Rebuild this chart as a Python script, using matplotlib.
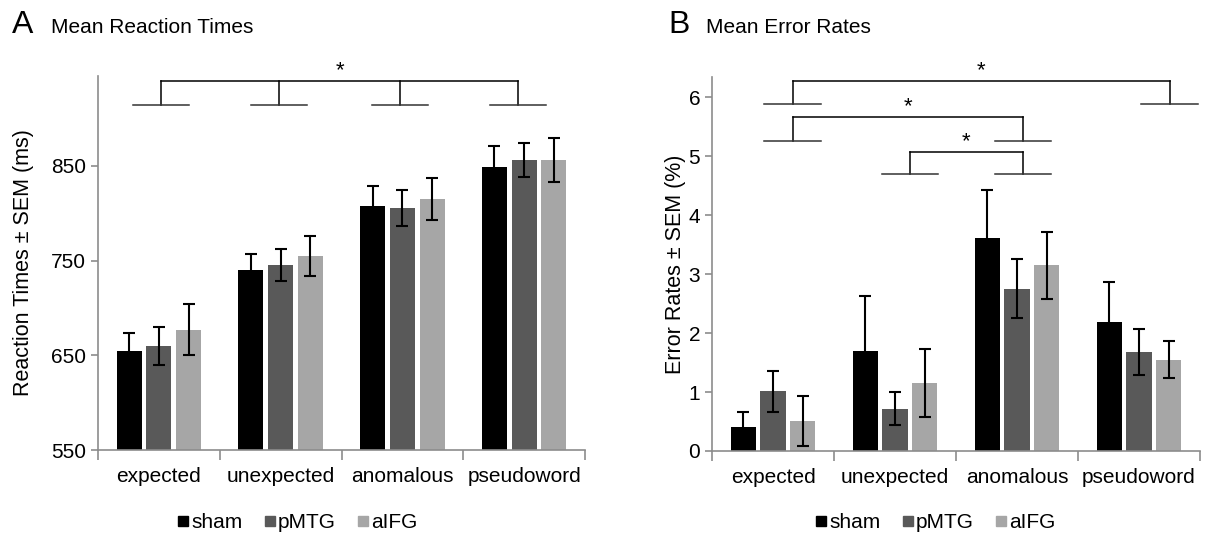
import numpy as np
import matplotlib.pyplot as plt
from matplotlib.lines import Line2D

plt.rcParams['font.family'] = ['Liberation Sans', 'DejaVu Sans']

categories = ["expected", "unexpected", "anomalous", "pseudoword"]
conditions = ["sham", "pMTG", "aIFG"]
colors = ["#000000", "#595959", "#a6a6a6"]

rt_sham = [655, 740, 808, 849]
rt_pmtg = [660, 745, 806, 856]
rt_aifg = [677, 755, 815, 856]
rt_sham_sem = [19, 17, 21, 22]
rt_pmtg_sem = [20, 17, 19, 18]
rt_aifg_sem = [27, 21, 22, 23]

er_sham = [0.41, 1.70, 3.61, 2.18]
er_pmtg = [1.01, 0.72, 2.75, 1.68]
er_aifg = [0.51, 1.15, 3.15, 1.55]
er_sham_sem = [0.25, 0.92, 0.81, 0.68]
er_pmtg_sem = [0.35, 0.28, 0.50, 0.39]
er_aifg_sem = [0.42, 0.58, 0.57, 0.32]

BAR_W = 0.205
STEP = 0.245
SPINE = "#8c8c8c"
FS = 15


def draw_bars(ax, means, sems):
    centers = np.arange(len(categories)) + 0.5
    for k, (m, s) in enumerate(zip(means, sems)):
        x = centers + (k - 1) * STEP
        ax.bar(x, m, BAR_W, color=colors[k], label=conditions[k], zorder=2)
        ax.errorbar(x, m, yerr=s, fmt="none", ecolor="black",
                    elinewidth=1.5, capsize=4, capthick=1.5, zorder=3)
    ax.set_xlim(0, len(categories))
    ax.set_xticks(np.arange(len(categories) + 1))
    ax.set_xticklabels([])
    ax.set_xticks(centers, minor=True)
    ax.set_xticklabels(categories, minor=True, fontsize=FS)
    ax.tick_params(axis="x", which="major", length=7, color=SPINE, width=1.2)
    ax.tick_params(axis="x", which="minor", length=0, pad=12)
    ax.tick_params(axis="y", length=5, color=SPINE, width=1.2, labelsize=FS)
    for side in ["top", "right"]:
        ax.spines[side].set_visible(False)
    for side in ["left", "bottom"]:
        ax.spines[side].set_color(SPINE)
        ax.spines[side].set_linewidth(1.2)


def bracket(ax, legs, y_top, y_leg, half=0.23):
    # legs: x positions of the vertical drops
    ax.plot([legs[0], legs[-1]], [y_top, y_top], color="black", lw=1.1,
            clip_on=False)
    for x in legs:
        ax.plot([x, x], [y_top, y_leg], color="black", lw=1.1, clip_on=False)
        ax.plot([x - half, x + half], [y_leg, y_leg], color="#333333",
                lw=1.1, clip_on=False)
    ax.text((legs[0] + legs[-1]) / 2, y_top, "*", ha="center", va="bottom",
            fontsize=16, clip_on=False)


fig = plt.figure(figsize=(12.12, 5.36), dpi=100)

ax1 = fig.add_axes([98 / 1212, 1 - 450 / 536, 487 / 1212, 374 / 536])
draw_bars(ax1, [rt_sham, rt_pmtg, rt_aifg],
          [rt_sham_sem, rt_pmtg_sem, rt_aifg_sem])
ax1.set_ylim(550, 945)
ax1.set_yticks([550, 650, 750, 850])
ax1.set_ylabel("Reaction Times \u00b1 SEM (ms)", fontsize=15.5)
ax1.yaxis.set_label_coords(-0.131, 0.5)
bracket(ax1, [0.52, 1.49, 2.48, 3.45], 940, 914)

ax2 = fig.add_axes([712 / 1212, 1 - 451 / 536, 488 / 1212, 374 / 536])
draw_bars(ax2, [er_sham, er_pmtg, er_aifg],
          [er_sham_sem, er_pmtg_sem, er_aifg_sem])
ax2.set_ylim(0, 6.34)
ax2.set_yticks(range(7))
ax2.set_ylabel("Error Rates \u00b1 SEM (%)", fontsize=15.5)
ax2.yaxis.set_label_coords(-0.053, 0.5)
bracket(ax2, [0.66, 3.75], 6.27, 5.88)
bracket(ax2, [0.66, 2.55], 5.66, 5.26)
bracket(ax2, [1.62, 2.55], 5.07, 4.69)

fig.text(12 / 1212, 1 - 33 / 536, "A", fontsize=23)
fig.text(51 / 1212, 1 - 33 / 536, "Mean Reaction Times", fontsize=FS)
fig.text(668 / 1212, 1 - 33 / 536, "B", fontsize=23)
fig.text(706 / 1212, 1 - 33 / 536, "Mean Error Rates", fontsize=FS)

handles = [Line2D([], [], marker="s", ls="none", color=c, markersize=7.5)
           for c in colors]
for cx in [297 / 1212, 935 / 1212]:
    fig.legend(handles, conditions, loc="center", ncol=3, frameon=False,
               bbox_to_anchor=(cx, 1 - 523 / 536), fontsize=FS,
               handletextpad=0.1, columnspacing=1.0, handlelength=0.6)

fig.savefig("out.png", dpi=100)
